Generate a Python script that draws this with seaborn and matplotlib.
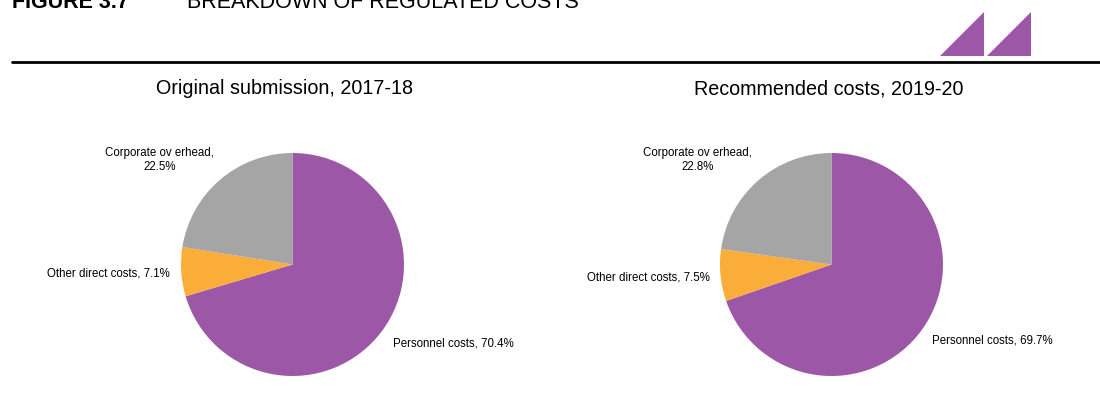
import matplotlib
matplotlib.use('Agg')
import matplotlib.pyplot as plt
import seaborn as sb
from matplotlib.patches import Polygon
from matplotlib.lines import Line2D

# Data
categories = ['Personnel costs', 'Other direct costs', 'Corporate ov erhead']
original_2017 = [70.4, 7.1, 22.5]
recommended_2019 = [69.7, 7.5, 22.8]
titles = ['Original submission, 2017-18', 'Recommended costs, 2019-20']
colours = ['#9C58A6', '#FBAD3A', '#A5A5A5']

sb.set_theme(style='white')
plt.rcParams['font.family'] = ['Liberation Sans', 'DejaVu Sans']
plt.rcParams['text.color'] = 'black'

W, H = 1100, 403
fig = plt.figure(figsize=(11, 4.03), dpi=100)

SPAN = 1.7


def pie_axes(cx, cy, r):
    # square axes centred on the pie centre, pixel coords from top-left
    half = r * SPAN
    return fig.add_axes([(cx - half) / W, (H - cy - half) / H, 2 * half / W, 2 * half / H])


# label offsets (in radius units) and alignment, per category
label_pos = [
    [(0.90, -0.71, 'left'), (-1.10, -0.08, 'right'), (-1.19, 0.94, 'center')],
    [(0.90, -0.68, 'left'), (-1.09, -0.12, 'right'), (-1.20, 0.94, 'center')],
]

centres = [(292.5, 264.5), (831.5, 264.5)]
title_x = [284, 829]
for i, values in enumerate([original_2017, recommended_2019]):
    cx, cy = centres[i]
    ax = pie_axes(cx, cy, 111.5)
    ax.pie(values, colors=colours, startangle=90, counterclock=False,
           radius=1, wedgeprops=dict(linewidth=0))
    ax.set_xlim(-SPAN, SPAN)
    ax.set_ylim(-SPAN, SPAN)
    ax.axis('off')
    for cat, val, (lx, ly, ha) in zip(categories, values, label_pos[i]):
        if ha == 'center':
            txt = f'{cat},\n{val}%'
        else:
            txt = f'{cat}, {val}%'
        ax.text(lx, ly, txt, ha=ha, va='center', fontsize=8.3,
                linespacing=1.25, color='black')
    fig.text(title_x[i] / W, 1 - 89 / H, titles[i], ha='center', va='center',
             fontsize=14.2, color='black')

# header (partly cut by the top edge, as in the source)
fig.text(12 / W, 1 - 8 / H, 'FIGURE 3.7', fontsize=15.5, fontweight='bold',
         va='baseline', color='black')
fig.text(187 / W, 1 - 8 / H, 'BREAKDOWN OF REGULATED COSTS', fontsize=15.5,
         va='baseline', color='black')

# rule under header
fig.add_artist(Line2D([12 / W, 1], [1 - 62 / H, 1 - 62 / H], color='black', lw=2))

# logo triangles
for x0 in [940, 987]:
    tri = Polygon([(x0 / W, 1 - 56 / H), ((x0 + 44) / W, 1 - 56 / H), ((x0 + 44) / W, 1 - 12 / H)],
                  closed=True, transform=fig.transFigure, color='#9C58A6', lw=0)
    fig.add_artist(tri)

plt.savefig('out.png', dpi=100)
